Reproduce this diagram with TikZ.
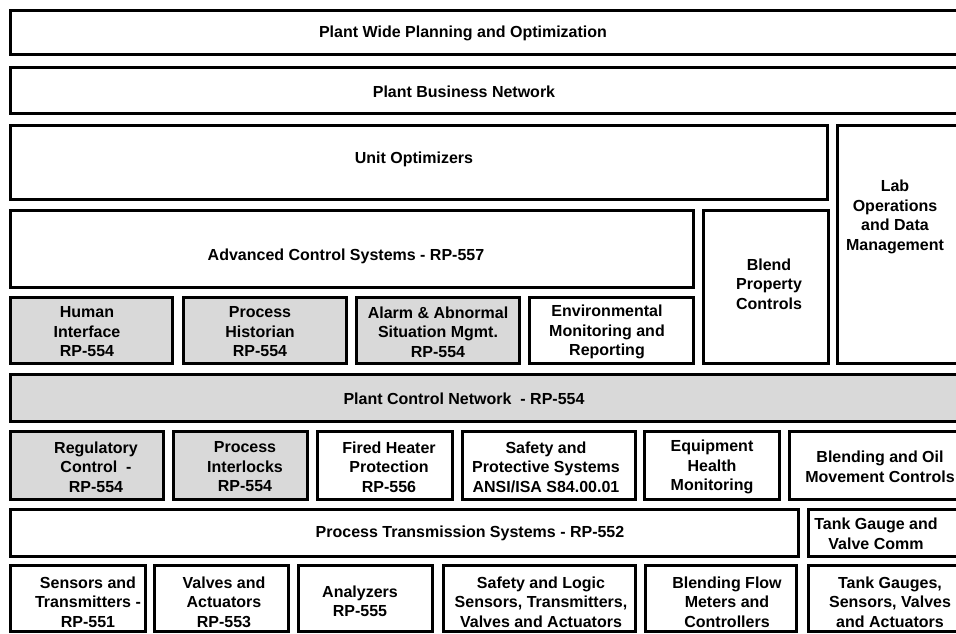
\documentclass[tikz,border=0pt]{standalone}
\usepackage{fontspec}
\setmainfont{Liberation Sans}
\usepackage{tikz}
\definecolor{netgray}{RGB}{217,217,217}
\tikzstyle{blk}=[draw=black, line width=2.25pt, fill=white]
\tikzstyle{gblk}=[blk, fill=netgray]
\tikzstyle{lbl}=[align=center, inner sep=0pt, font=\fontsize{12}{14.6}\selectfont\bfseries]

\begin{document}
\begin{tikzpicture}[x=0.75pt, y=-0.75pt]
	\useasboundingbox (0,0) rectangle (956,633);
	\clip (0,0) rectangle (956,633);

	%The planning and business layers
	\draw[blk] (10.5,10.5) rectangle (975,54.5);
	\draw[blk] (10.5,67) rectangle (975,113.5);
	\draw (463,33) node[lbl] (plan) {Plant Wide Planning and Optimization};
	\draw (464,92) node[lbl] (bus) {Plant Business Network};

	%Optimizers, advanced control and lab
	\draw[blk] (10.5,125) rectangle (827,199.5);
	\draw[blk] (837,125) rectangle (975,363);
	\draw[blk] (10.5,210.5) rectangle (693,287);
	\draw[blk] (703,210.5) rectangle (828,363);
	\draw (414,159) node[lbl] (opt) {Unit Optimizers};
	\draw (895,217) node[lbl] (lab) {Lab\\Operations\\and Data\\Management};
	\draw (346,256) node[lbl] (apc) {Advanced Control Systems - RP-557};
	\draw (769,284) node[lbl] (bpc) {Blend\\Property\\Controls};

	%Applications on the control network
	\draw[gblk] (10.5,297) rectangle (172.5,363.5);
	\draw[gblk] (183,297) rectangle (346,363.5);
	\draw[gblk] (356,297) rectangle (519.5,363.5);
	\draw[blk] (529,297) rectangle (693,363.5);
	\draw (87,332) node[lbl] (hmi) {Human\\Interface\\RP-554};
	\draw (260,332) node[lbl] (hist) {Process\\Historian\\RP-554};
	\draw (438,332) node[lbl] (alarm) {Alarm \& Abnormal\\Situation Mgmt.\\RP-554};
	\draw (607,332) node[lbl] (env) {Environmental\\Monitoring and\\Reporting};

	%The control network
	\draw[gblk] (10.5,374) rectangle (975,421);
	\draw (464,399) node[lbl] (pcn) {Plant Control Network~ - RP-554};

	%Controls and protection
	\draw[gblk] (10.5,431) rectangle (163.5,499);
	\draw[gblk] (173,431) rectangle (307.5,499);
	\draw[blk] (317,431) rectangle (452.5,499);
	\draw[blk] (462,431) rectangle (635,499);
	\draw[blk] (644,431) rectangle (779,499);
	\draw[blk] (789,431) rectangle (975,499);
	\draw (96,467) node[lbl] (reg) {Regulatory\\Control~ -\\RP-554};
	\draw (245,467) node[lbl] (ilk) {Process\\Interlocks\\RP-554};
	\draw (389,467) node[lbl] (fhp) {Fired Heater\\Protection\\RP-556};
	\draw (546,467) node[lbl] (sis) {Safety and\\Protective Systems\\ANSI/ISA S84.00.01};
	\draw (712,467) node[lbl] (ehm) {Equipment\\Health\\Monitoring};
	\draw (880,467) node[lbl] (bom) {Blending and Oil\\Movement Controls};

	%Transmission
	\draw[blk] (10.5,509) rectangle (798,556);
	\draw[blk] (808,509) rectangle (975,556);
	\draw (470,533) node[lbl] (pts) {Process Transmission Systems - RP-552};
	\draw (876,534) node[lbl] (tgc) {Tank Gauge and\\Valve Comm};

	%Field devices
	\draw[blk] (10.5,565.5) rectangle (145,631);
	\draw[blk] (154,565.5) rectangle (288,631);
	\draw[blk] (298,565.5) rectangle (432.5,631);
	\draw[blk] (443,565.5) rectangle (635,631);
	\draw[blk] (645,565.5) rectangle (796.5,631);
	\draw[blk] (808,565.5) rectangle (975,631);
	\draw (88,602) node[lbl] (sens) {Sensors and\\Transmitters -\\RP-551};
	\draw (224,602) node[lbl] (valv) {Valves and\\Actuators\\RP-553};
	\draw (360,601) node[lbl] (ana) {Analyzers\\RP-555};
	\draw (541,602) node[lbl] (slog) {Safety and Logic\\Sensors, Transmitters,\\Valves and Actuators};
	\draw (727,602) node[lbl] (bfm) {Blending Flow\\Meters and\\Controllers};
	\draw (890,602) node[lbl] (tank) {Tank Gauges,\\Sensors, Valves\\and Actuators};
\end{tikzpicture}
\end{document}
